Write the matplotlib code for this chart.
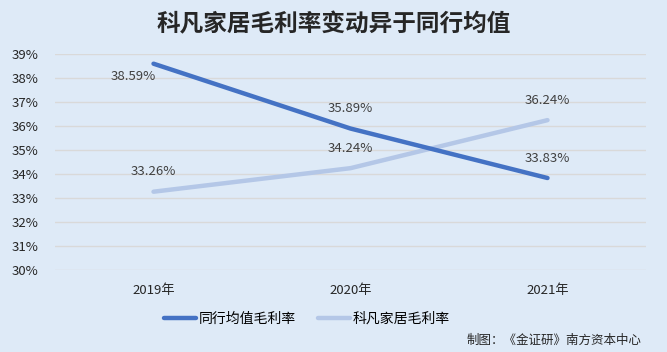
import matplotlib.pyplot as plt

plt.rcParams['font.family'] = ['Noto Sans CJK SC', 'DejaVu Sans']

years = ['2019年', '2020年', '2021年']
industry_avg = [38.59, 35.89, 33.83]
kefan = [33.26, 34.24, 36.24]
yticks = [30, 31, 32, 33, 34, 35, 36, 37, 38, 39]

bg = '#DEEAF7'
dark = '#4472C4'
light = '#B4C7E7'

fig = plt.figure(figsize=(6.67, 3.52), dpi=100, facecolor=bg)
ax = fig.add_axes([0.0825, 0.233, 0.886, 0.614], facecolor=bg)

x = list(range(len(years)))
ax.plot(x, industry_avg, color=dark, lw=3.2, solid_capstyle='round', label='同行均值毛利率', zorder=3)
ax.plot(x, kefan, color=light, lw=3.2, solid_capstyle='round', label='科凡家居毛利率', zorder=2)

for i, v in enumerate(industry_avg):
    off = (-20, -13) if i == 0 else (0, 20)
    ax.annotate(f'{v:.2f}%', (i, v), xytext=off, textcoords='offset pixels',
                ha='center', va='center', fontsize=9.5, color='#404040')
for i, v in enumerate(kefan):
    ax.annotate(f'{v:.2f}%', (i, v), xytext=(0, 20), textcoords='offset pixels',
                ha='center', va='center', fontsize=9.5, color='#404040')

ax.set_xlim(-0.5, 2.5)
ax.set_ylim(30, 39)
ax.set_yticks(yticks)
ax.set_yticklabels([f'{t}%' for t in yticks], fontsize=9.5, color='#262626')
ax.set_xticks(x)
ax.set_xticklabels(years, fontsize=9.5, color='#262626')
ax.tick_params(length=0, pad=10)
ax.tick_params(axis='y', pad=12)
ax.grid(axis='y', color='#D9D9D9', lw=1)
for s in ax.spines.values():
    s.set_visible(False)

fig.text(0.5, 0.93, '科凡家居毛利率变动异于同行均值', ha='center', va='center',
         fontsize=17, fontweight='bold', color='#262626')
fig.legend(loc='center', bbox_to_anchor=(0.46, 0.095), ncol=2, frameon=False,
           fontsize=10, handlelength=2.3, columnspacing=1.6, handletextpad=0.2)
fig.text(0.962, 0.032, '制图：《金证研》南方资本中心', ha='right', va='center',
         fontsize=9, color='#262626')

fig.savefig('out.png', dpi=100, facecolor=bg)
